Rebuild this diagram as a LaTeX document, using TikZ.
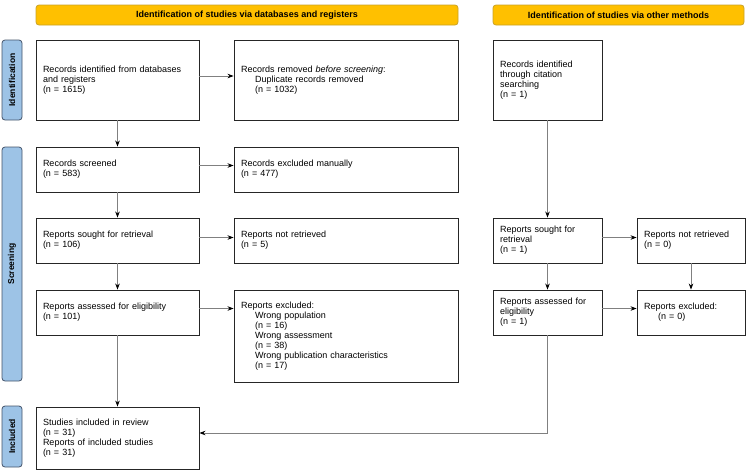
\documentclass[tikz,border=0pt]{standalone}
\usepackage{fontspec}
\setmainfont{Liberation Sans}
\usetikzlibrary{arrows.meta}
\definecolor{bannerfill}{HTML}{FFC000}
\definecolor{bannerdraw}{HTML}{C9A227}
\definecolor{sidefill}{HTML}{9DC3E6}
\definecolor{sidedraw}{HTML}{44546A}
\definecolor{linegray}{HTML}{808080}
\begin{document}
\begin{tikzpicture}[x=1pt,y=-1pt,
  box/.style={draw=black!85,line width=0.9pt,inner sep=0pt,align=left,
    font=\fontsize{9}{10}\selectfont},
  banner/.style={draw=bannerdraw,fill=bannerfill,line width=0.8pt,rounded corners=3pt,
    minimum height=20pt,inner sep=0pt,font=\bfseries\fontsize{9}{10}\selectfont},
  side/.style={draw=sidedraw,fill=sidefill,line width=0.8pt,rounded corners=3pt,
    rotate=90,minimum height=20pt,inner sep=0pt,font=\bfseries\fontsize{8.5}{10}\selectfont},
  conn/.style={draw=linegray,line width=0.7pt,-{Stealth[length=6pt,width=4.5pt,color=black]}},
  plain/.style={draw=linegray,line width=0.7pt}
]
\useasboundingbox (0,0) rectangle (750,472);

% banners
\node[banner,minimum width=422pt] (ban1) at (247,15) {Identification of studies via databases and registers};
\node[banner,minimum width=251pt] (ban2) at (618.5,15) {Identification of studies via other methods};

% side bars
\node[side,minimum width=80pt] (sid1) at (12,80) {Identification};
\node[side,minimum width=234pt] (sid2) at (12,264) {Screening};
\node[side,minimum width=61pt] (sid3) at (12,436.5) {Included};

% left column
\node[box,minimum width=163pt,minimum height=80pt,text width=149pt] (b1) at (117.5,80)
  {Records identified from databases\\and registers\\(n = 1615)};
\node[box,minimum width=224pt,minimum height=80pt,text width=210pt] (b2) at (346,80)
  {Records removed \textit{before screening}:\\\hspace*{14pt}Duplicate records removed\\\hspace*{14pt}(n = 1032)};
\node[box,minimum width=163pt,minimum height=45pt,text width=149pt] (b3) at (117.5,169.5)
  {Records screened\\(n = 583)};
\node[box,minimum width=224pt,minimum height=45pt,text width=210pt] (b4) at (346,169.5)
  {Records excluded manually\\(n = 477)};
\node[box,minimum width=163pt,minimum height=45pt,text width=149pt] (b5) at (117.5,240.5)
  {Reports sought for retrieval\\(n = 106)};
\node[box,minimum width=224pt,minimum height=45pt,text width=210pt] (b6) at (346,240.5)
  {Reports not retrieved\\(n = 5)};
\node[box,minimum width=163pt,minimum height=45pt,text width=149pt] (b7) at (117.5,312.5)
  {Reports assessed for eligibility\\(n = 101)};
\node[box,minimum width=224pt,minimum height=92pt,text width=210pt] (b8) at (346,336)
  {Reports excluded:\\\hspace*{14pt}Wrong population\\\hspace*{14pt}(n = 16)\\\hspace*{14pt}Wrong assessment\\\hspace*{14pt}(n = 38)\\\hspace*{14pt}Wrong publication characteristics\\\hspace*{14pt}(n = 17)};
\node[box,minimum width=163pt,minimum height=62pt,text width=149pt] (b9) at (117.5,438)
  {Studies included in review\\(n = 31)\\Reports of included studies\\(n = 31)};

% right column
\node[box,minimum width=109pt,minimum height=80pt,text width=95pt] (b10) at (547.5,80)
  {Records identified\\through citation\\searching\\(n = 1)};
\node[box,minimum width=109pt,minimum height=45pt,text width=95pt] (b11) at (547.5,240.5)
  {Reports sought for\\retrieval\\(n = 1)};
\node[box,minimum width=108pt,minimum height=45pt,text width=94pt] (b12) at (691,240.5)
  {Reports not retrieved\\(n = 0)};
\node[box,minimum width=109pt,minimum height=45pt,text width=95pt] (b13) at (547.5,312.5)
  {Reports assessed for\\eligibility\\(n = 1)};
\node[box,minimum width=108pt,minimum height=45pt,text width=94pt] (b14) at (691,312.5)
  {Reports excluded:\\\hspace*{14pt}(n = 0)};

% connectors left
\draw[conn] ([yshift=4pt]b1.east) -- ([yshift=4pt]b1.east -| b2.west);
\draw[conn] (b1.south) -- (b3.north);
\draw[conn] ([yshift=4pt]b3.east) -- ([yshift=4pt]b3.east -| b4.west);
\draw[conn] (b3.south) -- (b5.north);
\draw[conn] ([yshift=3pt]b5.east) -- ([yshift=3pt]b5.east -| b6.west);
\draw[conn] (b5.south) -- (b7.north);
\draw[conn] ([yshift=4pt]b7.east) -- ([yshift=4pt]b7.east -| b8.west);
\draw[conn] (b7.south) -- (b9.north);

% connectors right
\draw[conn] (b10.south) -- (b11.north);
\draw[conn] ([yshift=3pt]b11.east) -- ([yshift=3pt]b11.east -| b12.west);
\draw[conn] (b11.south) -- (b13.north);
\draw[conn] (b12.south) -- (b14.north);
\draw[conn] ([yshift=4pt]b13.east) -- ([yshift=4pt]b13.east -| b14.west);
\coordinate (turn) at (547.5,433);
\draw[conn] (b13.south) -- (turn) -- (turn -| b9.east);
\end{tikzpicture}
\end{document}
